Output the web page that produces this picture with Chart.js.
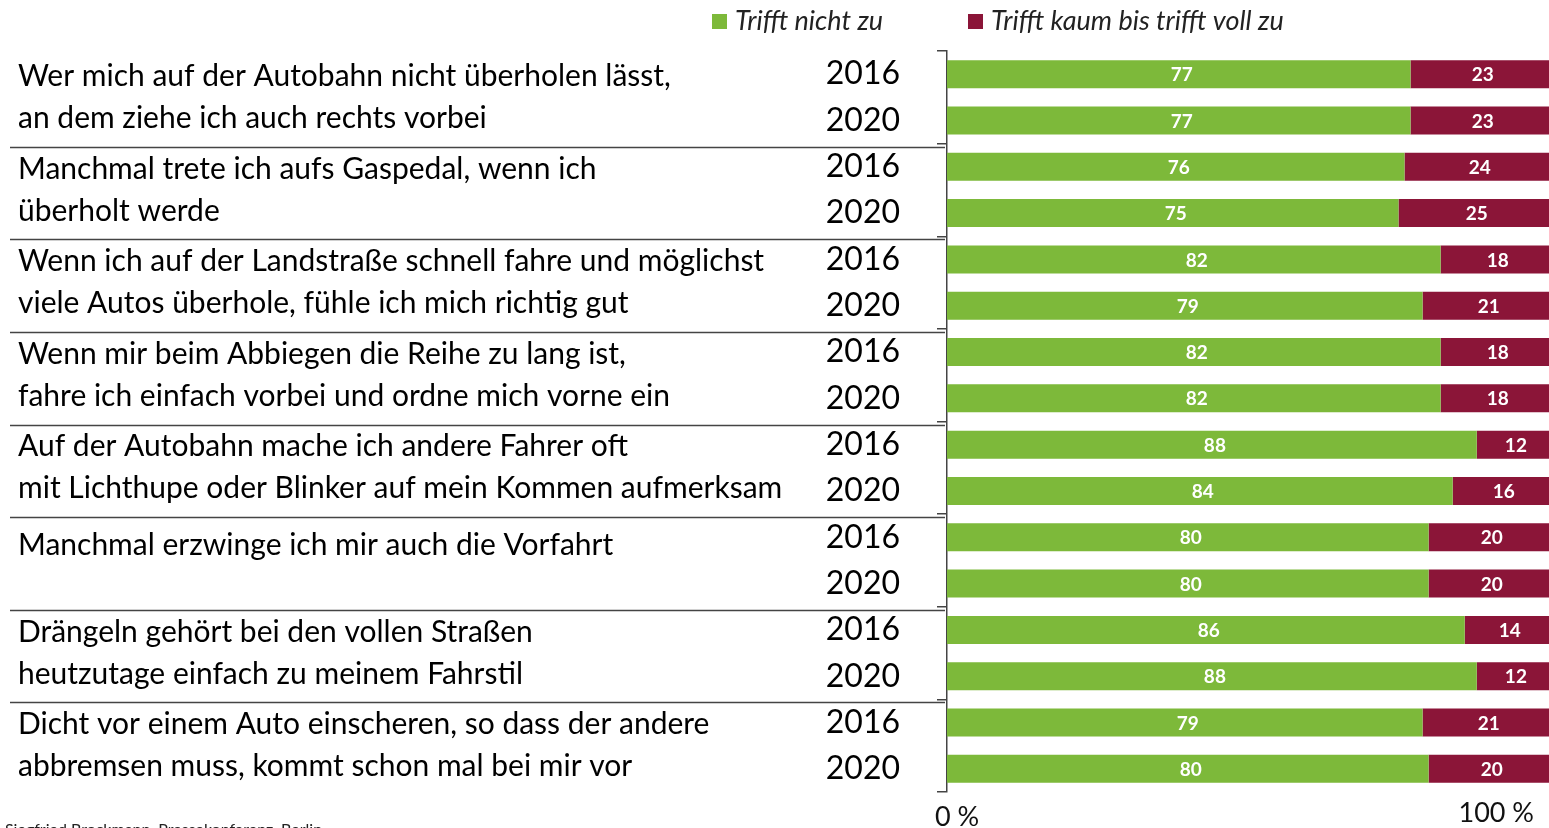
<!DOCTYPE html>
<html>
<head>
<meta charset="utf-8">
<script src="https://cdn.jsdelivr.net/npm/chart.js@4"></script>
<style>
html,body{margin:0;padding:0;background:#fff;}
#wrap{position:relative;width:1549px;height:828px;}
</style>
</head>
<body>
<div id="wrap"><canvas id="c"></canvas></div>
<script>
// ---- data ----
const statements = [
  ["Wer mich auf der Autobahn nicht überholen lässt,", "an dem ziehe ich auch rechts vorbei"],
  ["Manchmal trete ich aufs Gaspedal, wenn ich", "überholt werde"],
  ["Wenn ich auf der Landstraße schnell fahre und möglichst", "viele Autos überhole, fühle ich mich richtig gut"],
  ["Wenn mir beim Abbiegen die Reihe zu lang ist,", "fahre ich einfach vorbei und ordne mich vorne ein"],
  ["Auf der Autobahn mache ich andere Fahrer oft", "mit Lichthupe oder Blinker auf mein Kommen aufmerksam"],
  ["Manchmal erzwinge ich mir auch die Vorfahrt"],
  ["Drängeln gehört bei den vollen Straßen", "heutzutage einfach zu meinem Fahrstil"],
  ["Dicht vor einem Auto einscheren, so dass der andere", "abbremsen muss, kommt schon mal bei mir vor"]
];
const years = ["2016", "2020"];
const trifftNichtZu = [77, 77, 76, 75, 82, 79, 82, 82, 88, 84, 80, 80, 86, 88, 79, 80];
const trifftKaumBisVoll = [23, 23, 24, 25, 18, 21, 18, 18, 12, 16, 20, 20, 14, 12, 21, 20];
const seriesNames = ["Trifft nicht zu", "Trifft kaum bis trifft voll zu"];
const axisLabels = ["0 %", "100 %"];
const sourceNote = "Siegfried Brockmann, Pressekonferenz, Berlin";

const GREEN = "#7db93a";
const MAROON = "#8b1538";
const FONT = "Lato";

const labels = [];
statements.forEach(() => years.forEach(y => labels.push(y)));

const overlay = {
  id: "overlay",
  afterDatasetsDraw(chart) {
    const ctx = chart.ctx;
    ctx.save();
    ctx.fillStyle = "#ffffff";
    ctx.font = "bold 19px " + FONT;
    ctx.textAlign = "center";
    ctx.textBaseline = "middle";
    chart.data.datasets.forEach((ds, di) => {
      chart.getDatasetMeta(di).data.forEach((el, i) => {
        const cx = (el.x + el.base) / 2 + 3;
        ctx.fillText(String(ds.data[i]), cx, el.y + 1);
      });
    });
    ctx.restore();
  },
  afterDraw(chart) {
    const ctx = chart.ctx;
    const y = chart.scales.y;
    const x = chart.scales.x;
    ctx.save();
    // statement texts and separators
    ctx.fillStyle = "#000";
    ctx.font = "30px " + FONT;
    ctx.textAlign = "left";
    ctx.textBaseline = "middle";
    statements.forEach((lines, g) => {
      const p0 = y.getPixelForValue(g * 2);
      const p1 = y.getPixelForValue(g * 2 + 1);
      const c = (p0 + p1) / 2;
      if (lines.length === 1) {
        ctx.fillText(lines[0], 18, c - 15);
      } else {
        ctx.fillText(lines[0], 18, c - 21);
        ctx.fillText(lines[1], 18, c + 21);
      }
      if (g > 0) {
        const prev = y.getPixelForValue(g * 2 - 1);
        const by = Math.round((prev + p0) / 2) + 3.5;
        ctx.strokeStyle = "#444";
        ctx.lineWidth = 1.5;
        ctx.beginPath();
        ctx.moveTo(10, by);
        ctx.lineTo(945, by);
        ctx.stroke();
      }
    });
    // x-axis labels
    ctx.fillStyle = "#111";
    ctx.font = "27px " + FONT;
    ctx.textBaseline = "middle";
    ctx.textAlign = "left";
    ctx.fillText(axisLabels[0], x.getPixelForValue(0) - 12, 817);
    ctx.textAlign = "right";
    ctx.fillText(axisLabels[1], x.getPixelForValue(100) - 15, 813);
    // legend
    const legendX = [712, 968];
    chart.data.datasets.forEach((ds, i) => {
      ctx.fillStyle = ds.backgroundColor;
      ctx.fillRect(legendX[i], 14, 15, 15);
      ctx.fillStyle = "#222";
      ctx.font = "italic 27px " + FONT;
      ctx.textAlign = "left";
      ctx.textBaseline = "middle";
      ctx.fillText(ds.label, legendX[i] + 23, 21);
    });
    // source
    ctx.fillStyle = "#222";
    ctx.font = "16px " + FONT;
    ctx.textBaseline = "alphabetic";
    ctx.fillText(sourceNote, 5, 835);
    ctx.restore();
  }
};

new Chart(document.getElementById("c"), {
  type: "bar",
  data: {
    labels: labels,
    datasets: [
      { label: seriesNames[0], data: trifftNichtZu, backgroundColor: GREEN },
      { label: seriesNames[1], data: trifftKaumBisVoll, backgroundColor: MAROON }
    ]
  },
  options: {
    indexAxis: "y",
    responsive: true,
    maintainAspectRatio: false,
    animation: false,
    layout: { padding: { top: 51, bottom: 36, left: 0, right: 0 } },
    datasets: { bar: { barPercentage: 0.605, categoryPercentage: 1 } },
    plugins: { legend: { display: false }, tooltip: { enabled: false } },
    scales: {
      x: { stacked: true, min: 0, max: 100, display: false },
      y: {
        stacked: true,
        afterFit(scale) { scale.width = 947; scale.paddingTop = 0; scale.paddingBottom = 0; },
        ticks: { color: "#000", font: { family: FONT, size: 32 }, padding: 37 },
        grid: {
          offset: true,
          drawOnChartArea: false,
          tickLength: 10,
          lineWidth: 1.5,
          color: ctx => (ctx.index === undefined || ctx.index % 2 === 0) ? "#444" : "rgba(0,0,0,0)"
        },
        border: { display: true, color: "#444", width: 1.5 }
      }
    }
  },
  plugins: [overlay]
});
</script>
</body>
</html>
